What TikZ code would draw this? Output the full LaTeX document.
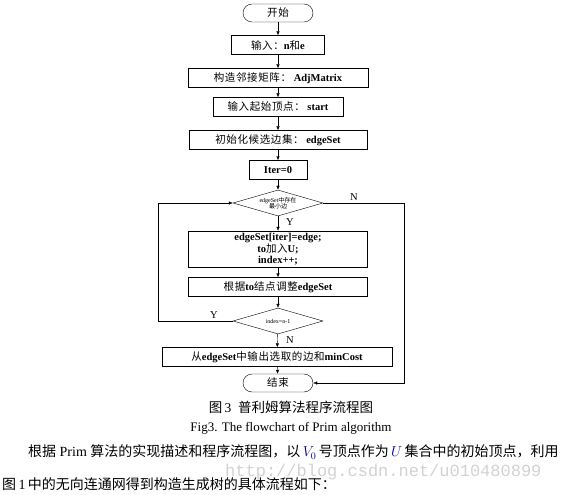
\documentclass[tikz,border=0pt]{standalone}
\usepackage{fontspec}
\setmainfont{Liberation Serif}
\newfontfamily\zh{Noto Sans CJK SC}
\newfontfamily\zhbox{Noto Sans CJK SC}[LetterSpace=6]
\newfontfamily\wmfont{Liberation Mono}
\newcommand{\zt}[1]{{\zhbox\mdseries #1}}
\usetikzlibrary{shapes.geometric,arrows.meta}

\tikzset{
  procbox/.style={draw, minimum height=19pt, inner sep=1pt, font=\fontsize{10.5}{12}\selectfont\bfseries},
  termbox/.style={draw, rounded corners=9pt, minimum width=70pt, minimum height=18pt, font=\fontsize{10.5}{12}\selectfont},
  decide/.style={draw, diamond, aspect=3.4, inner sep=0pt, minimum width=90pt, minimum height=26pt, font=\fontsize{6}{6.5}\selectfont, align=center},
  flow/.style={-{Latex[length=4pt,width=3.5pt]}},
  yn/.style={font=\fontsize{10.5}{12}\selectfont}
}

\begin{document}
\begin{tikzpicture}[x=1pt,y=-1pt]
  \useasboundingbox (0,0) rectangle (563,495);
  % flowchart
  \node[termbox] (start) at (278,13) {\zt{开始}};
  \node[procbox, minimum width=93pt] (input) at (278,45) {\zt{输入：}n\zt{和}e};
  \node[procbox, minimum width=180pt] (adj) at (278,78) {\zt{构造邻接矩阵：}\ AdjMatrix};
  \node[procbox, minimum width=130pt] (startv) at (278,107) {\zt{输入起始顶点：}\ start};
  \node[procbox, minimum width=178pt] (init) at (278,140) {\zt{初始化候选边集：}\ edgeSet};
  \node[procbox, minimum width=58pt] (iter) at (278,170) {Iter=0};
  \node[decide] (d1) at (278,203) {edgeSet{\zh 中存在}\\{\zh 最小边}};
  \node[procbox, minimum width=179pt, minimum height=36pt, align=center,
        font=\fontsize{10.5}{11}\selectfont\bfseries] (upd) at (278,249)
        {edgeSet[iter]=edge;\\to\zt{加入}U;\\index++;};
  \node[procbox, minimum width=179pt] (adjust) at (278,287) {\zt{根据}to\zt{结点调整}edgeSet};
  \node[decide] (d2) at (278,321) {index=n-1};
  \node[procbox, minimum width=230pt] (out) at (277,357) {\zt{从}edgeSet\zt{中输出选取的边和}minCost};
  \node[termbox] (stop) at (278,383) {\zt{结束}};

  \draw[flow] (start) -- (input);
  \draw[flow] (input) -- (adj);
  \draw[flow] (adj) -- (startv);
  \draw[flow] (startv) -- (init);
  \draw[flow] (init) -- (iter);
  \draw[flow] (iter) -- (d1);
  \draw[flow] (d1) -- (upd);
  \draw[flow] (upd) -- (adjust);
  \draw[flow] (adjust) -- (d2);
  \draw[flow] (d2) -- (out);
  \draw[flow] (out) -- (stop);

  % loops
  \coordinate (loopL) at (158,321);
  \coordinate (loopR) at (404,203);
  \draw[flow] (d2.west) -- (loopL) |- (d1.west);
  \draw[flow] (d1.east) -- (loopR) |- (stop.east);

  \node[yn] (y1) at (290,222) {Y};
  \node[yn] (n1) at (354,197) {N};
  \node[yn] (y2) at (214,315) {Y};
  \node[yn] (n2) at (290,340) {N};

  % caption and text
  \node[font=\fontsize{13.5}{15}\selectfont] (cap) at (291,407) {{\zh 图}\,3\ \ {\zh 普利姆算法程序流程图}};
  \node[font=\fontsize{13}{15}\selectfont] (capen) at (291,428) {Fig3. The flowchart of Prim algorithm};
  \node[font=\wmfont\fontsize{17}{19}\selectfont, text=gray!35, anchor=west, inner sep=0pt] (wm) at (225,472) {http://blog.csdn.net/u010480899};
  \node[font=\fontsize{14}{16}\selectfont, anchor=west, inner sep=0pt] (line1) at (28,452)
    {{\zh 根据} Prim {\zh 算法的实现描述和程序流程图，以}\,{\color{blue!50!black}$V_0$}\,{\zh 号顶点作为}\,{\color{blue!60!black}$U$}\,{\zh 集合中的初始顶点，利用}};
  \node[font=\fontsize{14}{16}\selectfont, anchor=west, inner sep=0pt] (line2) at (2,484)
    {{\zh 图}\,1\,{\zh 中的无向连通网得到构造生成树的具体流程如下：}};
\end{tikzpicture}
\end{document}
